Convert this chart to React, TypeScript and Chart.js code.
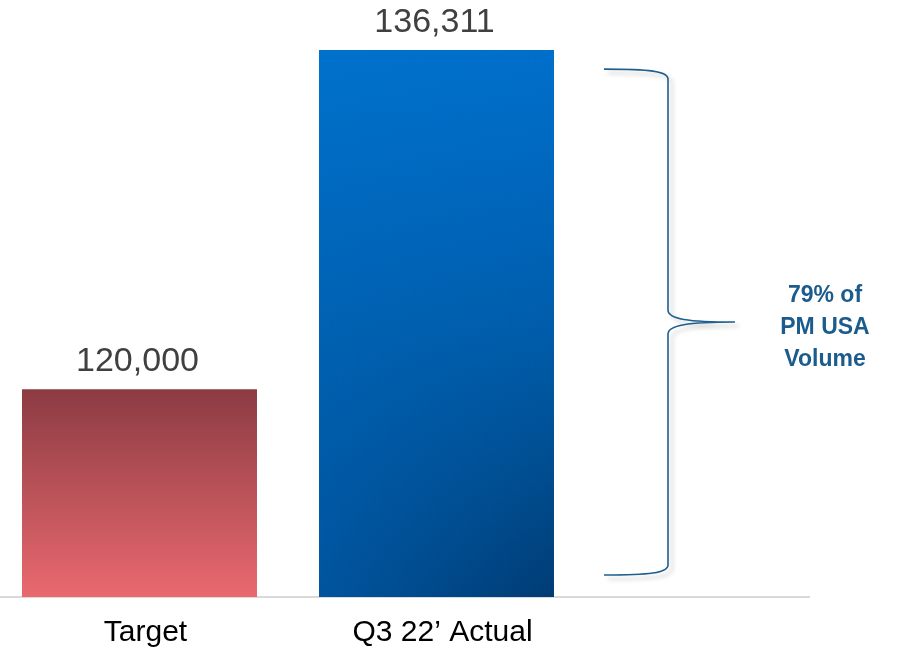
import React, { useEffect, useRef } from "react";
import { Chart, registerables } from "chart.js";

Chart.register(...registerables);

// ---- data ----
const categories = ["Target", "Q3 22\u2019 Actual"];
const values = [120000, 136311];
const noteLines = ["79% of", "PM USA", "Volume"];
const yMin = 110000;
const yMax = 138000;
const xMin = -0.4697;
const xMax = 2.2542;

const BAR_PCT = 0.7912;

// colour ramps (top -> bottom) for the blue bar's left and right edges
const blueLeft = ["#0072cc", "#006ac0", "#0062b3", "#005ba8", "#00559f"];
const blueRight = ["#006fca", "#0066bc", "#005dab", "#004e91", "#003c74"];

function barBox(chart: any, index: number, value: number) {
  const xs = chart.scales.x;
  const ys = chart.scales.y;
  const spacing = xs.getPixelForValue(1) - xs.getPixelForValue(0);
  const w = spacing * BAR_PCT;
  const cx = xs.getPixelForValue(index);
  return {
    left: cx - w / 2,
    right: cx + w / 2,
    top: ys.getPixelForValue(value),
    bottom: ys.getPixelForValue(yMin),
  };
}

function rampGradient(ctx: CanvasRenderingContext2D, h: number, stops: string[]) {
  const g = ctx.createLinearGradient(0, 0, 0, h);
  stops.forEach((c, i) => g.addColorStop(i / (stops.length - 1), c));
  return g;
}

function bilinearPattern(ctx: CanvasRenderingContext2D, b: any) {
  const w = Math.max(1, Math.ceil(b.right - b.left));
  const h = Math.max(1, Math.ceil(b.bottom - b.top));
  const base = document.createElement("canvas");
  base.width = w;
  base.height = h;
  const bc = base.getContext("2d")!;
  bc.fillStyle = rampGradient(bc, h, blueLeft);
  bc.fillRect(0, 0, w, h);

  const over = document.createElement("canvas");
  over.width = w;
  over.height = h;
  const oc = over.getContext("2d")!;
  oc.fillStyle = rampGradient(oc, h, blueRight);
  oc.fillRect(0, 0, w, h);
  oc.globalCompositeOperation = "destination-in";
  const mask = oc.createLinearGradient(0, 0, w, 0);
  mask.addColorStop(0, "rgba(0,0,0,0)");
  mask.addColorStop(1, "rgba(0,0,0,1)");
  oc.fillStyle = mask;
  oc.fillRect(0, 0, w, h);

  bc.drawImage(over, 0, 0);
  const pat = ctx.createPattern(base, "no-repeat")!;
  pat.setTransform(new DOMMatrix().translate(Math.round(b.left), Math.round(b.top)));
  return pat;
}

export default function App() {
  const ref = useRef<HTMLCanvasElement>(null);

  useEffect(() => {
    const canvas = ref.current!;

    const labelPlugin = {
      id: "valueLabels",
      afterDatasetsDraw(chart: any) {
        const ctx = chart.ctx;
        const meta = chart.getDatasetMeta(0);
        ctx.save();
        ctx.font = "34px 'Liberation Sans', Arial, sans-serif";
        ctx.fillStyle = "#404040";
        ctx.textAlign = "center";
        ctx.textBaseline = "alphabetic";
        meta.data.forEach((bar: any, i: number) => {
          const p = bar.getProps(["x", "y"], true);
          ctx.fillText(values[i].toLocaleString("en-US"), p.x - 2, p.y - 18);
        });
        ctx.restore();
      },
    };

    const bracePlugin = {
      id: "brace",
      afterDraw(chart: any) {
        const ctx = chart.ctx;
        const bar = chart.getDatasetMeta(0).data[1];
        if (!bar) return;
        const p = bar.getProps(["x", "y", "width"], true);
        const base = chart.scales.y.getPixelForValue(yMin);
        const right = p.x + p.width / 2;
        const xTail = right + 50;
        const xV = right + 114;
        const xTip = right + 181;
        const top = p.y + 19;
        const bottom = base - 22;
        const mid = (top + bottom) / 2;

        ctx.save();
        ctx.strokeStyle = "#1f5f8f";
        ctx.lineWidth = 1.6;
        ctx.shadowColor = "rgba(0,0,0,0.22)";
        ctx.shadowBlur = 4;
        ctx.shadowOffsetX = 4;
        ctx.shadowOffsetY = 4;
        ctx.beginPath();
        ctx.moveTo(xTail, top);
        ctx.bezierCurveTo(xTail + 45, top, xV, top + 2, xV, top + 10);
        ctx.lineTo(xV, mid - 12);
        ctx.bezierCurveTo(xV, mid - 3, xV + 20, mid, xTip, mid);
        ctx.bezierCurveTo(xV + 20, mid, xV, mid + 3, xV, mid + 12);
        ctx.lineTo(xV, bottom - 10);
        ctx.bezierCurveTo(xV, bottom - 2, xTail + 45, bottom, xTail, bottom);
        ctx.stroke();
        ctx.restore();

        ctx.save();
        ctx.font = "bold 23px 'Liberation Sans', Arial, sans-serif";
        ctx.fillStyle = "#1b5c8c";
        ctx.textAlign = "center";
        ctx.textBaseline = "alphabetic";
        const tx = xTip + 90;
        noteLines.forEach((line, i) => {
          ctx.fillText(line, tx, mid - 20 + i * 32);
        });
        ctx.restore();
      },
    };

    const chart = new Chart(canvas, {
      type: "bar",
      data: {
        datasets: [
          {
            data: values.map((v, i) => ({ x: i, y: v })),
            base: yMin,
            categoryPercentage: 1,
            barPercentage: BAR_PCT,
            borderWidth: 0,
            backgroundColor: (c: any) => {
              const chart = c.chart;
              if (!chart.chartArea || !chart.scales.x) return "#888";
              const i = c.dataIndex;
              const b = barBox(chart, i, values[i]);
              const ctx = chart.ctx;
              if (i === 0) {
                const g = ctx.createLinearGradient(0, b.top, 0, b.bottom);
                g.addColorStop(0, "#8c3b43");
                g.addColorStop(1, "#e9696f");
                return g;
              }
              return bilinearPattern(ctx, b);
            },
          },
        ],
      },
      options: {
        animation: false,
        responsive: false,
        maintainAspectRatio: false,
        layout: { padding: { top: 15, right: 88, bottom: 0, left: 0 } },
        plugins: {
          legend: { display: false },
          tooltip: { enabled: false },
        },
        scales: {
          x: {
            type: "linear",
            min: xMin,
            max: xMax,
            offset: false,
            grace: 0,
            bounds: "data",
            beginAtZero: false,
            z: 1,
            grid: { display: false, drawTicks: false, offset: false },
            border: { display: true, color: "#d9d9d9", width: 2 },
            afterBuildTicks: (scale: any) => {
              scale.ticks = categories.map((_, i) => ({ value: i }));
            },
            afterFit: (scale: any) => {
              scale.height = 51;
            },
            ticks: {
              autoSkip: false,
              maxRotation: 0,
              padding: 18,
              labelOffset: 6,
              color: "#000000",
              font: { family: "'Liberation Sans', Arial, sans-serif", size: 30 },
              callback: (v: any) => categories[v] ?? "",
            },
          },
          y: {
            display: false,
            min: yMin,
            max: yMax,
            grid: { display: false },
          },
        },
      },
      plugins: [labelPlugin, bracePlugin],
    } as any);

    return () => chart.destroy();
  }, []);

  return (
    <div style={{ position: "absolute", left: 0, top: 0, width: 897, height: 648, background: "#fff" }}>
      <canvas ref={ref} width={897} height={648} style={{ display: "block" }} />
    </div>
  );
}
